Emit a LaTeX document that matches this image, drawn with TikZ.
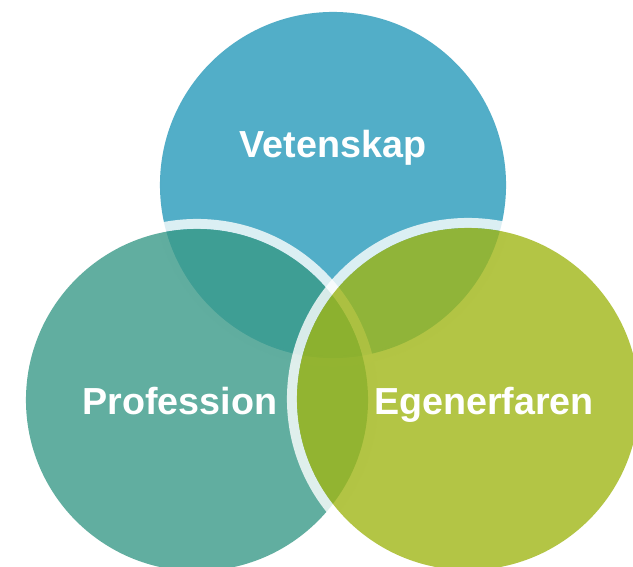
\documentclass[tikz,border=0pt]{standalone}
\usepackage{fontspec}
\setmainfont{Liberation Sans}
\definecolor{vetblue}{RGB}{39,154,186}
\definecolor{proteal}{RGB}{58,154,136}
\definecolor{egegreen}{RGB}{160,182,22}

\begin{document}
\begin{tikzpicture}[x=0.025cm,y=0.025cm,
  set/.style={circle,inner sep=0pt,outer sep=0pt,minimum size=8.55cm,fill opacity=0.8},
  halo/.style={circle,inner sep=0pt,outer sep=0pt,minimum size=8.8cm,draw=white,draw opacity=0.8,line width=0.25cm},
  lbl/.style={anchor=base,text=white,font=\fontsize{26.8}{32}\selectfont\bfseries}]
\useasboundingbox (0,0) rectangle (633,567);
\clip (0,0) rectangle (633,567);
% the three sets, each with a light rim
\node[halo] (vethalo) at (333,382) {};
\node[set,fill=vetblue,minimum size=8.65cm] (vet) at (333,382) {};
\node[halo] (prohalo) at (197,167) {};
\node[set,fill=proteal] (pro) at (197,167) {};
\node[halo] (egehalo) at (468,168) {};
\node[set,fill=egegreen] (ege) at (468,168) {};
% labels
\node[lbl] (vettext) at (333,409) {Vetenskap};
\node[lbl] (protext) at (180,152) {Profession};
\node[lbl] (egetext) at (484,152) {Egenerfaren};
\end{tikzpicture}
\end{document}
